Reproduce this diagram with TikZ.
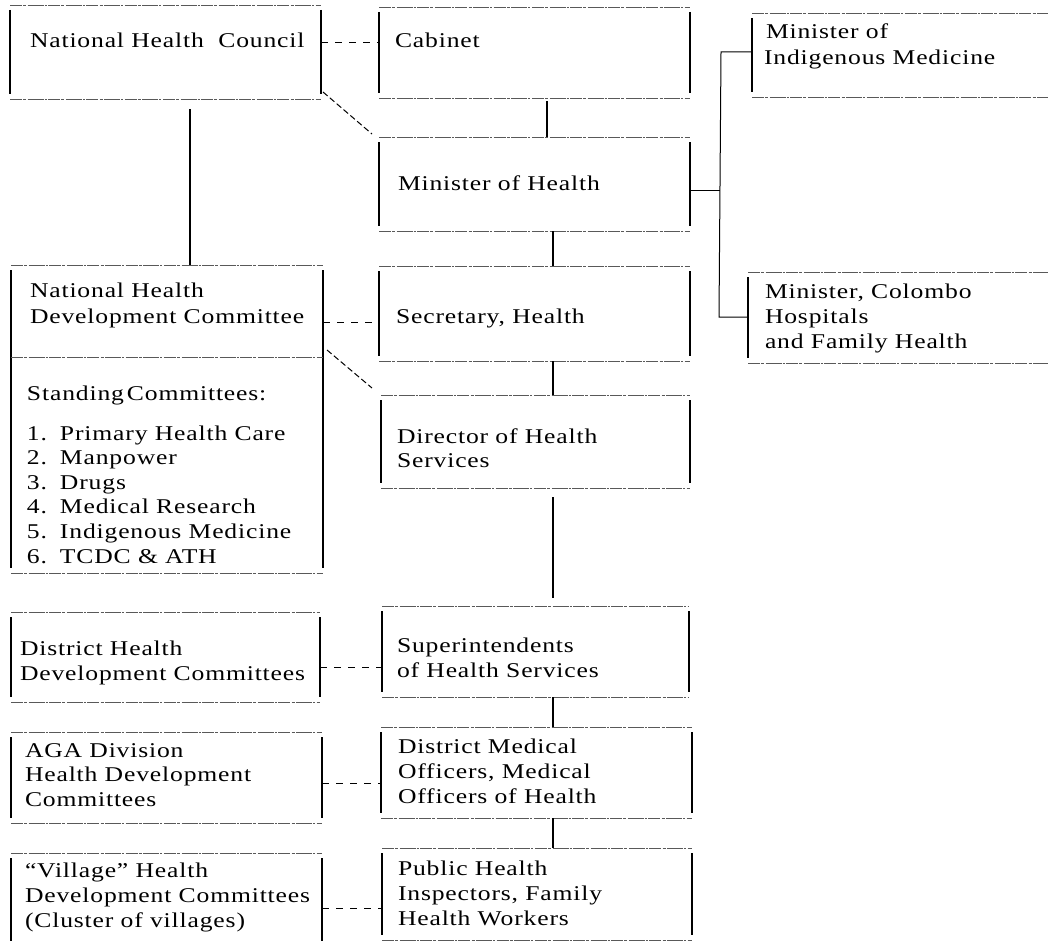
\documentclass[tikz,border=0pt]{standalone}
\usepackage{fontspec}
\setmainfont{Liberation Serif}[FakeStretch=1.22,LetterSpace=4]
\usetikzlibrary{calc}
\tikzset{
  boxnode/.style={draw=none, inner sep=0pt, outer sep=0pt, rectangle},
  hline/.style={line width=0.9pt, draw=black!65, dash pattern=on 12pt off 1.2pt on 3pt off 1.5pt on 16pt off 1pt on 2pt off 1.5pt},
  vline/.style={line width=1.5pt, draw=black},
  solidc/.style={line width=1.4pt, draw=black},
  thinc/.style={line width=1pt, draw=black},
  dashc/.style={line width=1pt, draw=black, dash pattern=on 7pt off 7pt},
  diagc/.style={line width=1pt, draw=black, dash pattern=on 6pt off 3pt},
  txt/.style={anchor=base west, inner sep=0pt, outer sep=0pt, font=\fontsize{21}{25}\selectfont},
}
\newcommand\orgnode[5]{\node[boxnode, minimum width={(#4-#2)*1pt}, minimum height={(#5-#3)*1pt}] (#1) at ({(#2+#4)/2},{(#3+#5)/2}) {};}
\newcommand\bxTop[1]{\draw[hline] (#1.north west) -- (#1.north east);}
\newcommand\bxBot[1]{\draw[hline] (#1.south west) -- (#1.south east);}
\newcommand\bxLeft[1]{\draw[vline] ([yshift=-5pt]#1.north west) -- ([yshift=5pt]#1.south west);}
\newcommand\bxRight[1]{\draw[vline] ([yshift=-5pt]#1.north east) -- ([yshift=5pt]#1.south east);}
\newcommand\orgbox[5]{\orgnode{#1}{#2}{#3}{#4}{#5}\bxTop{#1}\bxBot{#1}\bxLeft{#1}\bxRight{#1}}
\newcommand\txtlines[5]{\foreach \s [count=\i from 0] in {#5} {\node[txt] (#1\i) at (#2,{#3+\i*#4}) {\s};}}
\newcommand\num[1]{\makebox[33pt][l]{#1}}

\begin{document}
\begin{tikzpicture}[x=1pt,y=-1pt]
\path[use as bounding box, fill=white] (0,0) rectangle (1051,942);

% ---------- boxes ----------
\orgbox{nhc}{10}{5}{321}{99}
\orgbox{cab}{379}{7}{690}{98}
\orgbox{moh}{379}{137}{690}{231}
\orgbox{sec}{379}{266}{690}{361}
\orgbox{nhdc}{11}{265}{323}{573}
\orgbox{dir}{381}{395}{690}{488}
\orgbox{dhdc}{11}{612}{320}{702}
\orgbox{sup}{382}{606}{689}{697}
\orgbox{aga}{11}{732}{322}{823}
\orgbox{dmo}{381}{727}{692}{818}
\orgbox{phi}{382}{848}{692}{940}
% open on the right
\orgnode{mim}{752}{13}{1048}{97}\bxTop{mim}\bxBot{mim}\bxLeft{mim}
\orgnode{mch}{748}{272}{1048}{363}\bxTop{mch}\bxBot{mch}\bxLeft{mch}
% village box runs off the page
\orgnode{vhdc}{11}{853}{322}{946}\bxTop{vhdc}\bxLeft{vhdc}\bxRight{vhdc}
% divider in the NHDC box
\coordinate (nhdcdiv) at (0,357);
\draw[hline] (nhdc.west |- nhdcdiv) -- (nhdc.east |- nhdcdiv);

% ---------- texts ----------
\node[txt] (nhct) at (30,48) {National Health\ \ Council};
\node[txt] (cabt) at (395,48) {Cabinet};
\node[txt] (mimt0) at (766,39) {Minister of};
\node[txt] (mimt1) at (764,64) {Indigenous Medicine};
\node[txt] (moht) at (398,190) {Minister of Health};
\node[txt] (sect) at (396,323) {Secretary, Health};
\txtlines{mcht}{765}{298}{25}{{Minister, Colombo},Hospitals,{and Family Health}}
\txtlines{nhdct}{30}{297}{26}{National Health,Development Committee}
\node[txt] (stct) at (27,400) {Standing\hspace{3pt}Committees:};
\txtlines{listt}{27}{440}{24.6}{{\num{1.}Primary Health Care},{\num{2.}Manpower},{\num{3.}Drugs},{\num{4.}Medical Research},{\num{5.}Indigenous Medicine},{\num{6.}TCDC \& ATH}}
\txtlines{dirt}{397}{443}{24}{Director of Health,Services}
\txtlines{dhdct}{20}{655}{25}{District Health,Development Committees}
\txtlines{supt}{397}{652}{25}{Superintendents,of Health Services}
\txtlines{agat}{25}{757}{24.5}{AGA Division,Health Development,Committees}
\txtlines{dmot}{398}{753}{25}{District Medical,{Officers, Medical},Officers of Health}
\txtlines{vhdct}{25}{877}{25}{“Village” Health,Development Committees,(Cluster of villages)}
\txtlines{phit}{398}{875}{25}{Public Health,{Inspectors, Family},Health Workers}

% ---------- connectors ----------
\coordinate (cx) at (190,0);
\draw[solidc] ([yshift=-10pt]nhc.south -| cx) -- (nhdc.north -| cx);
\coordinate (d1) at (0,43);
\draw[dashc] (nhc.east |- d1) -- (cab.west |- d1);
\draw[diagc] ([xshift=2pt,yshift=7pt]nhc.south east) -- ([xshift=-7pt,yshift=3pt]moh.north west);
\coordinate (d2) at (0,322);
\draw[dashc] (nhdc.east |- d2) -- (sec.west |- d2);
\draw[diagc] ([xshift=4pt,yshift=7pt]nhdc.east |- nhdcdiv) -- ([xshift=-9pt,yshift=7pt]dir.north west);
\coordinate (d3) at (0,667);
\draw[dashc] (dhdc.east |- d3) -- (sup.west |- d3);
\coordinate (d4) at (0,783);
\draw[dashc] (aga.east |- d4) -- (dmo.west |- d4);
\coordinate (d5) at (0,908);
\draw[dashc] (vhdc.east |- d5) -- (phi.west |- d5);

\coordinate (cc1) at (547,0);
\coordinate (cc2) at (553,0);
\draw[solidc] ([yshift=-3pt]cab.south -| cc1) -- (moh.north -| cc1);
\draw[solidc] (moh.south -| cc2) -- (sec.north -| cc2);
\draw[solidc] (sec.south -| cc2) -- (dir.north -| cc2);
\draw[solidc, shorten <=9pt, shorten >=8pt] (dir.south -| cc2) -- (sup.north -| cc2);
\draw[solidc] (sup.south -| cc2) -- (dmo.north -| cc2);
\draw[solidc] (dmo.south -| cc2) -- (phi.north -| cc2);

\coordinate (bkT) at (721,52);
\coordinate (bkM) at (720,190);
\coordinate (bkB) at (719,317);
\draw[thinc] (moh.east |- bkM) -- (bkM);
\draw[thinc] (mim.west |- bkT) -- (bkT) -- (bkB) -- (mch.west |- bkB);
\end{tikzpicture}
\end{document}
